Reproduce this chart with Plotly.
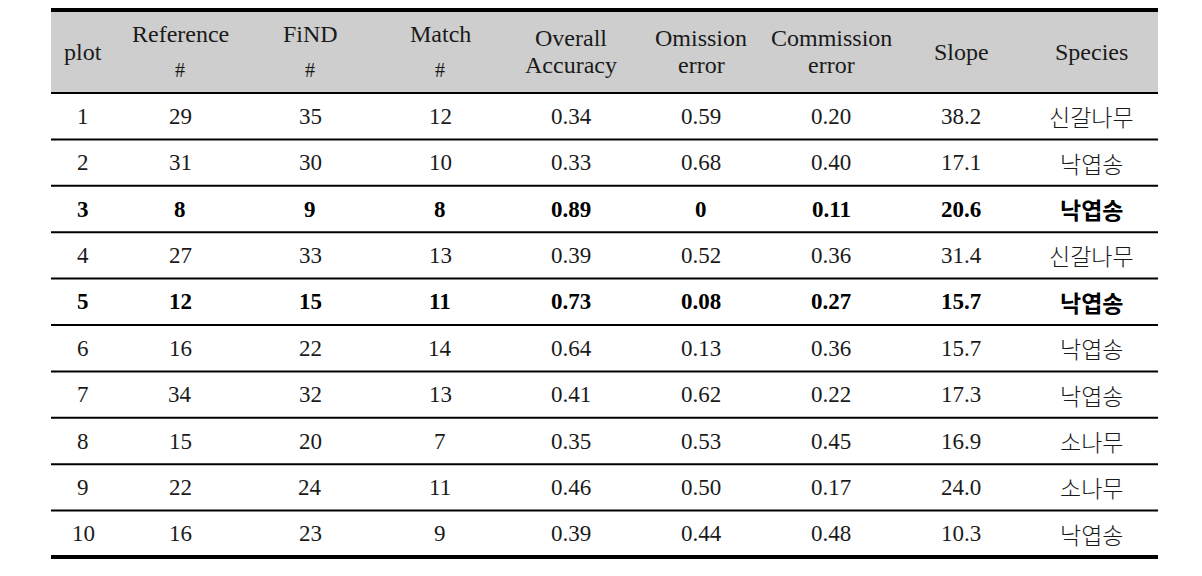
import plotly.graph_objects as go

# ---- data ----
plots = [1, 2, 3, 4, 5, 6, 7, 8, 9, 10]
reference = [29, 31, 8, 27, 12, 16, 34, 15, 22, 16]
find = [35, 30, 9, 33, 15, 22, 32, 20, 24, 23]
match = [12, 10, 8, 13, 11, 14, 13, 7, 11, 9]
overall = [0.34, 0.33, 0.89, 0.39, 0.73, 0.64, 0.41, 0.35, 0.46, 0.39]
omission = [0.59, 0.68, 0, 0.52, 0.08, 0.13, 0.62, 0.53, 0.50, 0.44]
commission = [0.20, 0.40, 0.11, 0.36, 0.27, 0.36, 0.22, 0.45, 0.17, 0.48]
slope = [38.2, 17.1, 20.6, 31.4, 15.7, 15.7, 17.3, 16.9, 24.0, 10.3]
species = ["신갈나무", "낙엽송", "낙엽송", "신갈나무", "낙엽송", "낙엽송", "낙엽송", "소나무", "소나무", "낙엽송"]
bold_rows = [3, 5]

headers = [("plot", None), ("Reference", "#"), ("FiND", "#"), ("Match", "#"),
           ("Overall", "Accuracy"), ("Omission", "error"), ("Commission", "error"),
           ("Slope", None), ("Species", None)]


def f2(v):
    return "0" if v == 0 else f"{v:.2f}"


columns = [
    [str(v) for v in plots],
    [str(v) for v in reference],
    [str(v) for v in find],
    [str(v) for v in match],
    [f2(v) for v in overall],
    [f2(v) for v in omission],
    [f2(v) for v in commission],
    [f"{v:.1f}" for v in slope],
    species,
]

# ---- layout geometry (screen pixels) ----
X0, X1 = 51, 1158
col_centers = [83, 180, 310, 440, 571, 701, 831, 961, 1091]
TOP, HEAD_BOT = 10, 93
ROW_H = 46.4
OFF = 8  # page body margin

SERIF = "Liberation Serif, serif"
KR = "Noto Sans CJK KR, sans-serif"
TXT = "#1a1a1a"

fig = go.Figure()
shapes = []
annotations = []

shapes.append(dict(type="rect", x0=X0, x1=X1, y0=TOP, y1=HEAD_BOT,
                   fillcolor="#cecece", line=dict(width=0), layer="below"))
shapes.append(dict(type="line", x0=X0, x1=X1, y0=TOP, y1=TOP,
                   line=dict(color="black", width=4)))
n = len(plots)
for i in range(n):
    y = HEAD_BOT + ROW_H * i
    shapes.append(dict(type="line", x0=X0, x1=X1, y0=y, y1=y,
                       line=dict(color="black", width=2)))
ybot = HEAD_BOT + ROW_H * n
shapes.append(dict(type="line", x0=X0, x1=X1, y0=ybot, y1=ybot,
                   line=dict(color="black", width=4)))

HS = 24
for (l1, l2), cx in zip(headers, col_centers):
    if l2 is None:
        annotations.append(dict(x=cx, y=52, text=l1, showarrow=False,
                                font=dict(family=SERIF, size=HS, color=TXT)))
    elif l2 == "#":
        annotations.append(dict(x=cx, y=34, text=l1, showarrow=False,
                                font=dict(family=SERIF, size=HS, color=TXT)))
        annotations.append(dict(x=cx, y=70, text=l2, showarrow=False,
                                font=dict(family=SERIF, size=20, color=TXT)))
    else:
        annotations.append(dict(x=cx, y=38, text=l1, showarrow=False,
                                font=dict(family=SERIF, size=HS, color=TXT)))
        annotations.append(dict(x=cx, y=65, text=l2, showarrow=False,
                                font=dict(family=SERIF, size=HS, color=TXT)))

for i in range(n):
    yc = HEAD_BOT + ROW_H * (i + 0.5)
    is_bold = plots[i] in bold_rows
    for j, (col, cx) in enumerate(zip(columns, col_centers)):
        txt = col[i]
        if j == len(columns) - 1:
            font = dict(family=KR, size=23, color=TXT if not is_bold else "black",
                        weight=700 if is_bold else 300)
        elif is_bold:
            font = dict(family=SERIF, size=23, color="black", weight="bold")
        else:
            font = dict(family=SERIF, size=23, color=TXT)
        annotations.append(dict(x=cx, y=yc, text=txt, showarrow=False, font=font))

fig.update_layout(
    width=1202, height=576,
    margin=dict(l=0, r=0, t=0, b=0),
    paper_bgcolor="white", plot_bgcolor="white",
    xaxis=dict(range=[OFF, 1202 + OFF], visible=False, fixedrange=True),
    yaxis=dict(range=[576 + OFF, OFF], visible=False, fixedrange=True),
    shapes=shapes, annotations=annotations,
    showlegend=False,
)

fig.write_html("out.html")
